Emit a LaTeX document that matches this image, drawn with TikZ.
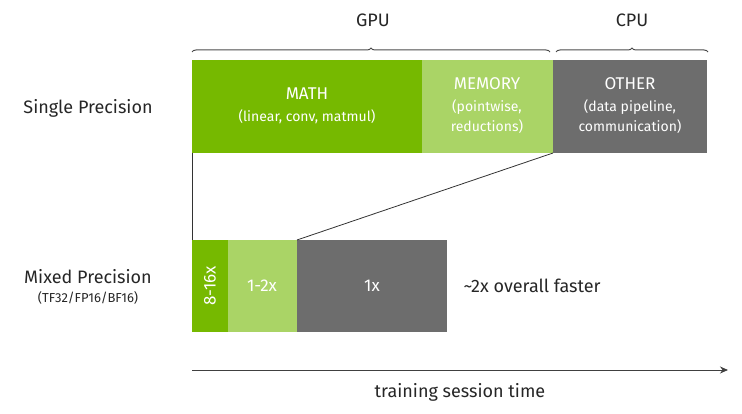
\documentclass[tikz,border=0pt]{standalone}
\usepackage{fontspec}
\setmainfont{Fira Sans}
\usetikzlibrary{arrows.meta,decorations.pathreplacing}
\definecolor{ngreen}{HTML}{76B900}
\definecolor{lgreen}{HTML}{AAD466}
\definecolor{ngray}{HTML}{6D6D6D}
\begin{document}
\begin{tikzpicture}[x=1pt,y=-1pt,
  bx/.style={draw=none,inner sep=0pt,text=white,align=center,font=\fontsize{17}{20}\selectfont},
  brc/.style={draw=black!70,line width=1pt,decorate,decoration={brace,amplitude=4pt}},
  lbl/.style={font=\fontsize{18}{22}\selectfont,text=black!85}]
\useasboundingbox (0,0) rectangle (742,414);
\fill[ngreen] (192,60) rectangle (422,153);
\fill[lgreen] (422,60) rectangle (553,153);
\fill[ngray] (553,60) rectangle (707,153);
\node[bx] (math) at (307,106) {MATH\\[2pt]{\fontsize{14}{17}\selectfont(linear, conv, matmul)}};
\node[bx] (mem) at (487,106) {MEMORY\\[2pt]{\fontsize{14}{17}\selectfont(pointwise,}\\{\fontsize{14}{17}\selectfont reductions)}};
\node[bx] (oth) at (630,106) {OTHER\\[2pt]{\fontsize{14}{17}\selectfont(data pipeline,}\\{\fontsize{14}{17}\selectfont communication)}};
\draw[brc] (192,52) -- (550,52);
\draw[brc] (556,52) -- (708,52);
\node[lbl] (gpu) at (373,20) {GPU};
\node[lbl] (cpu) at (632,20) {CPU};
\fill[ngreen] (192,240) rectangle (228,332);
\fill[lgreen] (228,240) rectangle (297,332);
\fill[ngray] (297,240) rectangle (447,332);
\node[bx,rotate=90] (a) at (210,286) {8-16x};
\node[bx] (b) at (262,286) {1-2x};
\node[bx] (c) at (372,286) {1x};
\coordinate (t1) at (192,153); \coordinate (b1) at (192,240);
\coordinate (t2) at (553,153); \coordinate (b2) at (297,240);
\draw[black!80,line width=0.8pt] (t1) -- (b1);
\draw[black!80,line width=0.8pt] (t2) -- (b2);
\node[lbl] (sp) at (88,108) {Single Precision};
\node[lbl] (mp) at (88,277) {Mixed Precision};
\node[font=\fontsize{13}{16}\selectfont,text=black!85] (tf) at (88,298) {(TF32/FP16/BF16)};
\node[lbl,anchor=west] (fast) at (460,286) {\textasciitilde 2x overall faster};
\coordinate (ax1) at (192,370); \coordinate (ax2) at (728,370);
\draw[black!75,line width=1pt,-{Stealth[length=8pt,width=7pt]}] (ax1) -- (ax2);
\node[lbl] (tt) at (460,392) {training session time};
\end{tikzpicture}
\end{document}
